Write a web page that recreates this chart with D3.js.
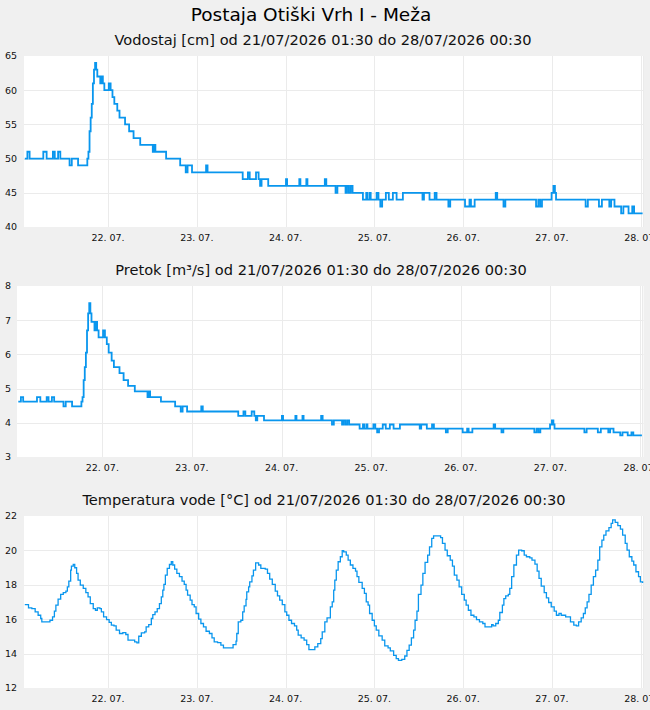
<!DOCTYPE html>
<html>
<head>
<meta charset="utf-8">
<title>Postaja Otiški Vrh I - Meža</title>
<style>
  body { margin: 0; background: #f0f0f0; font-family: "DejaVu Sans", sans-serif; }
  svg { display: block; }
  .tick-lbl { font-size: 9.5px; fill: #111; }
  .sub { font-size: 14.6px; fill: #111; }
</style>
<script src="https://d3js.org/d3.v7.min.js"></script>
</head>
<body>
<div id="chart"></div>
<script>
const start = new Date(2026, 6, 21, 1, 30);
const end = new Date(2026, 6, 28, 0, 30);

// [hours from start, value]
const vodostaj = [[0,50],[0.7,51],[1.3,50],[5.0,51],[5.9,50],[7.6,51],[8.1,50],[9.0,51],[9.6,50],[12.1,49],[12.7,50],[14.4,49],[16.9,50],[17.2,51],[17.5,54],[17.8,56],[18.1,58],[18.4,61],[18.7,63],[19.0,64],[19.3,63],[19.6,62],[20.4,61],[20.7,62],[21.1,61],[21.5,60],[22.7,61],[23.2,60],[23.7,59],[24.2,58],[25.0,57],[25.6,56],[27.1,55],[28.2,54],[29.4,53],[31.2,52],[34.6,51],[34.9,52],[35.3,51],[38.2,50],[42.0,49],[43.5,48],[44.0,49],[45.2,48],[49.0,49],[49.4,48],[58.9,47],[60.3,48],[60.8,47],[62.5,48],[63.2,47],[63.6,46],[64.0,47],[65.8,46],[70.6,47],[70.9,46],[74.2,47],[74.5,46],[76.1,47],[76.4,46],[81.1,47],[81.5,46],[84.0,45],[84.5,46],[86.7,45],[87.1,46],[87.6,45],[88.1,46],[88.6,45],[91.4,44],[92.3,45],[92.6,44],[93.2,45],[93.5,44],[95.1,45],[95.6,44],[96.1,43],[96.6,44],[97.6,45],[98.4,44],[99.5,45],[100.5,44],[102.2,45],[107.5,44],[107.9,45],[109.4,44],[110.8,45],[111.3,44],[114.5,43],[115.0,44],[119.0,43],[120.2,44],[120.6,43],[121.6,44],[127.3,45],[127.7,44],[129.4,43],[129.9,44],[138.2,43],[138.8,44],[139.3,43],[139.8,44],[142.4,45],[142.9,46],[143.3,45],[143.6,44],[151.6,43],[152.2,44],[155.2,43],[156.0,44],[158.0,43],[158.5,44],[159.4,43],[161.2,42],[161.8,43],[163.2,42],[164.2,43],[164.7,42],[167,42]];

const pretok = [[0,4.62],[0.7,4.75],[1.3,4.62],[5.0,4.75],[5.9,4.62],[7.6,4.75],[8.1,4.62],[9.0,4.75],[9.6,4.62],[12.1,4.48],[12.7,4.62],[14.4,4.48],[16.9,4.62],[17.2,4.75],[17.5,5.25],[17.8,5.63],[18.1,6.05],[18.4,6.7],[18.7,7.2],[19.0,7.5],[19.3,7.2],[19.6,6.95],[20.4,6.7],[20.7,6.95],[21.1,6.7],[21.5,6.5],[22.7,6.7],[23.2,6.5],[23.7,6.3],[24.2,6.05],[25.0,5.82],[25.6,5.63],[27.1,5.45],[28.2,5.25],[29.4,5.08],[31.2,4.92],[34.6,4.75],[34.9,4.92],[35.3,4.75],[38.2,4.62],[42.0,4.48],[43.5,4.33],[44.0,4.48],[45.2,4.33],[49.0,4.48],[49.4,4.33],[58.9,4.2],[60.3,4.33],[60.8,4.2],[62.5,4.33],[63.2,4.2],[63.6,4.07],[64.0,4.2],[65.8,4.07],[70.6,4.2],[70.9,4.07],[74.2,4.2],[74.5,4.07],[76.1,4.2],[76.4,4.07],[81.1,4.2],[81.5,4.07],[84.0,3.95],[84.5,4.07],[86.7,3.95],[87.1,4.07],[87.6,3.95],[88.1,4.07],[88.6,3.95],[91.4,3.83],[92.3,3.95],[92.6,3.83],[93.2,3.95],[93.5,3.83],[95.1,3.95],[95.6,3.83],[96.1,3.72],[96.6,3.83],[97.6,3.95],[98.4,3.83],[99.5,3.95],[100.5,3.83],[102.2,3.95],[107.5,3.83],[107.9,3.95],[109.4,3.83],[110.8,3.95],[111.3,3.83],[114.5,3.72],[115.0,3.83],[119.0,3.72],[120.2,3.83],[120.6,3.72],[121.6,3.83],[127.3,3.95],[127.7,3.83],[129.4,3.72],[129.9,3.83],[138.2,3.72],[138.8,3.83],[139.3,3.72],[139.8,3.83],[142.4,3.95],[142.9,4.07],[143.3,3.95],[143.6,3.83],[151.6,3.72],[152.2,3.83],[155.2,3.72],[156.0,3.83],[158.0,3.72],[158.5,3.83],[159.4,3.72],[161.2,3.63],[161.8,3.72],[163.2,3.63],[164.2,3.72],[164.7,3.63],[167,3.63]];

const temperatura = [[0,16.85],[1,16.66],[1.9,16.62],[2.8,16.43],[3.6,16.23],[4.3,16.04],[4.6,15.84],[5.9,15.84],[6.8,15.94],[7.5,16.14],[8,16.47],[8.4,16.82],[9,17.17],[9.7,17.44],[10.4,17.55],[11.1,17.63],[11.5,17.88],[11.9,18.21],[12.4,18.85],[12.6,19.09],[13.1,19.18],[13.5,18.99],[14,18.66],[14.4,18.27],[15,17.98],[15.8,17.79],[16.5,17.55],[17.1,17.3],[17.7,16.91],[18.5,16.62],[19.1,16.52],[19.6,16.66],[20.3,16.62],[20.7,16.43],[21.3,16.14],[22.1,15.98],[22.8,15.81],[23.4,15.65],[24.1,15.61],[24.7,15.36],[25.6,15.17],[26.5,15.22],[27.3,15.11],[27.9,14.78],[29.1,14.78],[29.7,14.68],[30.3,14.62],[30.8,15.01],[31.5,15.2],[32.4,15.26],[32.8,15.55],[33.5,15.69],[34.2,16.04],[34.6,16.27],[35.2,16.43],[35.8,16.62],[36.4,16.91],[36.9,17.3],[37.3,17.69],[37.6,18.02],[38,18.56],[38.5,18.95],[39.1,19.18],[39.6,19.34],[40,19.15],[40.5,18.91],[41.1,18.66],[41.8,18.47],[42.5,18.21],[43.1,18.02],[43.6,17.69],[44,17.4],[44.7,17.11],[45.2,16.85],[45.8,16.72],[46.3,16.33],[47,16],[47.6,15.75],[48.3,15.55],[49,15.3],[49.9,15.17],[50.6,14.91],[51.2,14.68],[52.1,14.64],[53,14.49],[53.7,14.33],[55.4,14.33],[56.3,14.52],[57.1,14.72],[57.3,15.17],[57.7,15.84],[58.4,15.94],[58.9,16.43],[59.3,16.78],[59.8,17.15],[60,17.59],[60.5,17.88],[60.8,18.17],[61.4,18.52],[61.8,18.85],[62.4,19.28],[63.2,19.15],[63.8,18.95],[65,18.91],[65.6,18.66],[66.2,18.33],[66.9,18.02],[67.7,17.63],[68.3,17.36],[68.9,17.11],[69.6,16.85],[70.3,16.43],[70.8,16.23],[71.4,15.94],[72.1,15.75],[72.9,15.61],[73.5,15.36],[73.9,15.07],[74.7,14.91],[75.5,14.78],[76.2,14.52],[76.8,14.23],[77.7,14.23],[78.4,14.39],[79.2,14.58],[80,14.87],[80.4,15.26],[81.1,15.84],[81.7,16.08],[82.2,16.08],[82.6,16.72],[83.1,17.01],[83.5,17.69],[83.8,18.27],[84.2,18.85],[84.7,19.34],[85.3,19.63],[85.8,19.98],[86.2,19.92],[86.9,19.73],[87.4,19.44],[88,19.15],[88.7,18.95],[89.4,18.8],[89.8,18.47],[90.3,18.14],[91.2,17.79],[91.8,17.5],[92.3,17.01],[92.8,16.82],[93.2,16.33],[93.9,15.94],[94.5,15.61],[95,15.36],[95.7,15.03],[96.6,14.78],[97.3,14.45],[98.2,14.33],[98.8,14.16],[99.7,13.9],[100.4,13.71],[101,13.61],[101.9,13.67],[102.7,13.86],[103.3,14.19],[103.9,14.49],[104.5,14.91],[105.1,15.36],[105.5,15.94],[106,16.47],[106.4,17.44],[107.1,17.98],[107.6,18.66],[108.2,19.3],[108.9,19.73],[109.4,20.21],[110,20.7],[110.5,20.85],[111.8,20.85],[112.4,20.74],[112.9,20.41],[113.6,20.02],[114.2,19.69],[115,19.44],[115.6,19.09],[116.1,18.56],[116.8,18.27],[117.4,17.88],[118.1,17.44],[118.8,17.11],[119.3,16.82],[119.9,16.52],[120.6,16.23],[121.4,16.14],[122.1,15.98],[122.9,15.84],[123.8,15.75],[124.4,15.55],[125.3,15.55],[126.2,15.69],[126.6,15.61],[127.3,15.75],[128,15.94],[128.4,16.39],[129.1,16.82],[129.5,17.2],[130,17.36],[130.7,17.44],[131.1,17.79],[131.6,18.47],[132.2,19.15],[132.9,19.73],[133.5,20.02],[134.3,19.98],[135,19.73],[135.6,19.63],[136.5,19.57],[137.1,19.44],[137.9,19.2],[138.5,18.8],[139,18.37],[139.6,17.92],[140.4,17.55],[141,17.24],[141.6,16.97],[142.3,16.72],[143.1,16.47],[143.7,16.23],[144.4,16.33],[145,16.23],[145.7,16.23],[146.2,16.14],[146.8,16.14],[147.5,15.84],[148.4,15.65],[149.1,15.61],[149.7,15.84],[150.4,16.08],[151,16.33],[151.5,16.66],[152,17.01],[152.5,17.44],[153.1,17.98],[153.7,18.47],[154.3,18.85],[154.9,19.44],[155.4,20.21],[156,20.6],[156.5,20.89],[157.1,21.13],[157.9,21.32],[158.5,21.57],[158.9,21.77],[159.6,21.63],[160.3,21.44],[161,21.24],[161.6,20.89],[162.3,20.41],[162.8,20.02],[163.4,19.63],[164.1,19.38],[164.6,19.15],[165.2,18.76],[165.9,18.47],[166.4,18.17],[167,18.1]];

const ticksVodostaj = [40, 45, 50, 55, 60, 65];
const ticksPretok = [3, 4, 5, 6, 7, 8];
const ticksTemperatura = [12, 14, 16, 18, 20, 22];

const mainTitle = "Postaja Otiški Vrh I - Meža";
const range = "od 21/07/2026 01:30 do 28/07/2026 00:30";

const W = 650, H = 710;
const lineColor = "#0996ee";
const gridColor = "#ebebeb";

const svg = d3.select("#chart").append("svg")
  .attr("width", W).attr("height", H);

svg.append("rect").attr("width", W).attr("height", H).attr("fill", "#f0f0f0");

svg.append("text")
  .attr("x", 311).attr("y", 21)
  .attr("text-anchor", "middle")
  .attr("font-size", "18.5px")
  .attr("fill", "#000")
  .text(mainTitle);

const fmt = d3.timeFormat("%d. %m.");
const toDate = h => new Date(start.getTime() + h * 3600e3);

function panel(o) {
  const x = d3.scaleTime().domain([start, end]).range([o.x0, o.x1]);
  const y = d3.scaleLinear().domain([o.ticks[0], o.ticks[o.ticks.length - 1]]).range([o.bottom, o.top]);
  const g = svg.append("g");

  g.append("text")
    .attr("class", "sub")
    .attr("x", o.titleX).attr("y", o.titleY)
    .attr("text-anchor", "middle")
    .text(o.title);

  g.append("rect")
    .attr("x", o.left).attr("y", o.top)
    .attr("width", o.right - o.left).attr("height", o.bottom - o.top)
    .attr("fill", "#fff");

  // grid
  g.selectAll(".hg").data(o.ticks.slice(1, -1)).join("line")
    .attr("x1", o.left).attr("x2", o.right)
    .attr("y1", d => Math.round(y(d)) + 0.5).attr("y2", d => Math.round(y(d)) + 0.5)
    .attr("stroke", gridColor);

  const days = x.ticks(d3.timeDay.every(1));
  g.selectAll(".vg").data(days.concat([end])).join("line")
    .attr("x1", d => Math.round(x(d)) + 0.5).attr("x2", d => Math.round(x(d)) + 0.5)
    .attr("y1", o.top).attr("y2", o.bottom)
    .attr("stroke", gridColor);

  // labels
  g.selectAll(".yl").data(o.ticks).join("text")
    .attr("class", "tick-lbl")
    .attr("x", 5).attr("y", d => y(d))
    .attr("dy", "0.35em")
    .text(d => d);

  g.selectAll(".xl").data(days).join("text")
    .attr("class", "tick-lbl")
    .attr("x", d => x(d)).attr("y", o.bottom + 14)
    .attr("text-anchor", "middle")
    .text(d => fmt(d));

  const line = d3.line()
    .x(d => x(toDate(d[0])))
    .y(d => y(d[1]))
    .curve(d3.curveStepAfter);

  g.append("path")
    .datum(o.data)
    .attr("fill", "none")
    .attr("stroke", lineColor)
    .attr("stroke-width", o.lw)
    .attr("d", line);
}

panel({
  title: "Vodostaj [cm] " + range, titleX: 323, titleY: 45,
  data: vodostaj, ticks: ticksVodostaj,
  left: 24, right: 643.5, top: 56, bottom: 227,
  x0: 24.8, x1: 642.6, lw: 1.8
});

panel({
  title: "Pretok [m³/s] " + range, titleX: 321, titleY: 275,
  data: pretok, ticks: ticksPretok,
  left: 17, right: 643.5, top: 286, bottom: 457,
  x0: 18.3, x1: 641.9, lw: 1.8
});

panel({
  title: "Temperatura vode [°C] " + range, titleX: 324, titleY: 505,
  data: temperatura, ticks: ticksTemperatura,
  left: 24, right: 643.5, top: 516, bottom: 688,
  x0: 24.8, x1: 642.6, lw: 1.3
});
</script>
</body>
</html>
